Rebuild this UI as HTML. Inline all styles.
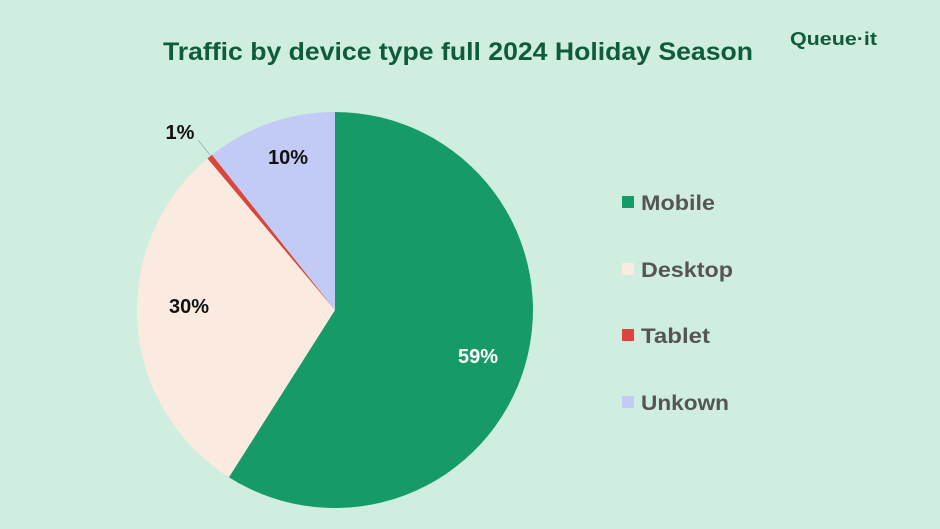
<!DOCTYPE html>
<html><head><style>
body{margin:0;width:940px;height:529px;background:#cfeee0;overflow:hidden;font-family:"Liberation Sans",sans-serif;}
</style></head><body>
<svg width="940" height="529" xmlns="http://www.w3.org/2000/svg" style="position:absolute;left:0;top:0">
<text x="163" y="60" textLength="590" lengthAdjust="spacingAndGlyphs" font-family="Liberation Sans,sans-serif" font-weight="bold" font-size="25" fill="#0f5c3d">Traffic by device type full 2024 Holiday Season</text>
<text x="790" y="45" textLength="87" lengthAdjust="spacingAndGlyphs" font-family="Liberation Sans,sans-serif" font-weight="bold" font-size="18" fill="#0f5c3d">Queue·it</text>
<path d="M335,310 L335,112 A198,198 0 1,1 228.9,477.2 Z" fill="#169b68"/>
<path d="M335,310 L228.9,477.2 A198,198 0 0,1 207.5,158.5 Z" fill="#fbeadf"/>
<path d="M335,310 L207.5,158.5 A198,198 0 0,1 212,154.8 Z" fill="#d9463e"/>
<path d="M335,310 L212,154.8 A198,198 0 0,1 335,112 Z" fill="#c1cbf6"/>
<line x1="210" y1="155" x2="198" y2="140" stroke="#9aa" stroke-width="0.7"/>
<g font-family="Liberation Sans,sans-serif" font-weight="bold" font-size="20">
<text x="180" y="139" text-anchor="middle" fill="#111">1%</text>
<text x="288" y="164" text-anchor="middle" fill="#111">10%</text>
<text x="189" y="313" text-anchor="middle" fill="#111">30%</text>
<text x="478" y="363" text-anchor="middle" fill="#fff">59%</text>
</g>
<g font-family="Liberation Sans,sans-serif" font-weight="bold" font-size="21" fill="#555">
<rect x="622" y="196" width="12" height="12" fill="#169b68"/><text x="641" y="210" textLength="74" lengthAdjust="spacingAndGlyphs">Mobile</text>
<rect x="622" y="263" width="12" height="12" fill="#fbeadf"/><text x="641" y="277" textLength="92" lengthAdjust="spacingAndGlyphs">Desktop</text>
<rect x="622" y="329" width="12" height="12" fill="#d9463e"/><text x="641" y="343" textLength="69" lengthAdjust="spacingAndGlyphs">Tablet</text>
<rect x="622" y="396" width="12" height="12" fill="#c1cbf6"/><text x="641" y="410" textLength="88" lengthAdjust="spacingAndGlyphs">Unkown</text>
</g>
</svg>
</body></html>
